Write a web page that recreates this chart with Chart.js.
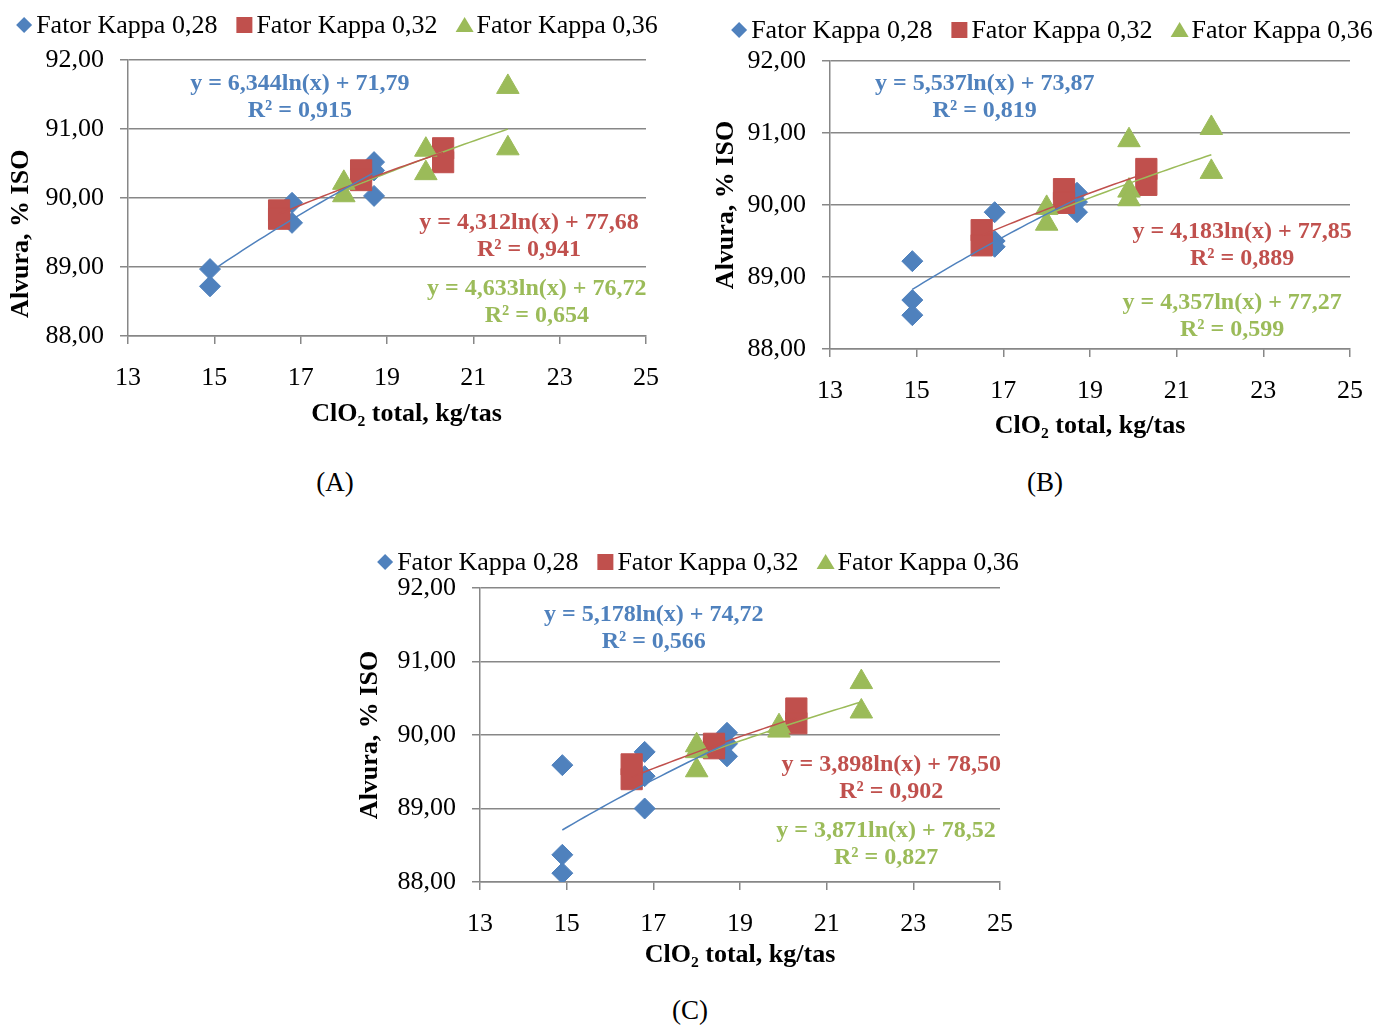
<!DOCTYPE html>
<html>
<head>
<meta charset="utf-8">
<script src="https://cdn.jsdelivr.net/npm/chart.js"></script>
<style>
body{margin:0;background:#fff;width:1382px;height:1025px;position:relative;overflow:hidden;font-family:'Liberation Serif','Times New Roman',serif}
.box{position:absolute}
.tag{position:absolute;font-size:27px;line-height:28px;width:80px;margin-left:-40px;text-align:center;color:#000}
</style>
</head>
<body>
<div class="box" style="left:0;top:0;width:680px;height:440px"><canvas id="chartA"></canvas></div>
<div class="box" style="left:705px;top:0;width:677px;height:450px"><canvas id="chartB"></canvas></div>
<div class="box" style="left:349px;top:528px;width:683px;height:454px"><canvas id="chartC"></canvas></div>
<div class="tag" style="left:335px;top:468px">(A)</div>
<div class="tag" style="left:1045px;top:468px">(B)</div>
<div class="tag" style="left:690px;top:996px">(C)</div>
<script>
var seriesNames = ["Fator Kappa 0,28", "Fator Kappa 0,32", "Fator Kappa 0,36"];
var xTicks = [13, 15, 17, 19, 21, 23, 25];
var yTicks = [88, 89, 90, 91, 92];

// (A)
var aK28x = [14.9, 14.9, 16.8, 16.8, 18.7, 18.7, 18.7];
var aK28y = [88.97, 88.72, 89.93, 89.64, 90.52, 90.40, 90.03];
var aK32x = [16.5, 16.5, 18.4, 18.4, 20.3, 20.3];
var aK32y = [89.82, 89.70, 90.40, 90.26, 90.72, 90.52];
var aK36x = [18.0, 18.0, 19.9, 19.9, 21.8, 21.8];
var aK36y = [90.22, 90.04, 90.70, 90.36, 91.61, 90.72];
var aCoef = [[6.344, 71.79], [4.312, 77.68], [4.633, 76.72]];
var aEq = ["y = 6,344ln(x) + 71,79", "y = 4,312ln(x) + 77,68", "y = 4,633ln(x) + 76,72"];
var aR2 = ["R² = 0,915", "R² = 0,941", "R² = 0,654"];

// (B)
var bK28x = [14.9, 14.9, 14.9, 16.8, 16.8, 16.8, 18.7, 18.7, 18.7];
var bK28y = [89.22, 88.68, 88.47, 89.90, 89.50, 89.42, 90.17, 90.04, 89.90];
var bK32x = [16.5, 16.5, 18.4, 18.4, 20.3, 20.3];
var bK32y = [89.65, 89.44, 90.22, 90.03, 90.50, 90.28];
var bK36x = [18.0, 18.0, 19.9, 19.9, 19.9, 21.8, 21.8];
var bK36y = [89.96, 89.74, 90.90, 90.20, 90.08, 91.07, 90.46];
var bCoef = [[5.537, 73.87], [4.183, 77.85], [4.357, 77.27]];
var bEq = ["y = 5,537ln(x) + 73,87", "y = 4,183ln(x) + 77,85", "y = 4,357ln(x) + 77,27"];
var bR2 = ["R² = 0,819", "R² = 0,889", "R² = 0,599"];

// (C)
var cK28x = [14.9, 14.9, 14.9, 16.8, 16.8, 16.8, 18.7, 18.7, 18.7];
var cK28y = [89.59, 88.37, 88.12, 89.77, 89.44, 89.00, 90.03, 89.88, 89.71];
var cK32x = [16.5, 16.5, 18.4, 18.4, 20.3, 20.3];
var cK32y = [89.60, 89.40, 89.88, 89.82, 90.36, 90.16];
var cK36x = [18.0, 18.0, 18.0, 19.9, 19.9, 21.8, 21.8];
var cK36y = [89.86, 89.78, 89.52, 90.12, 90.06, 90.72, 90.32];
var cCoef = [[5.178, 74.72], [3.898, 78.50], [3.871, 78.52]];
var cEq = ["y = 5,178ln(x) + 74,72", "y = 3,898ln(x) + 78,50", "y = 3,871ln(x) + 78,52"];
var cR2 = ["R² = 0,566", "R² = 0,902", "R² = 0,827"];

var colors = ["#4F81BD", "#C0504D", "#9BBB59"];
var shapes = ["rectRot", "rect", "triangle"];
var radii = [10.5, 15, 13];
var gridColor = "#878787";
var serif = "'Liberation Serif', 'Times New Roman', serif";

Chart.defaults.font.family = serif;
Chart.defaults.color = "#000";

function toPoints(xs, ys) {
	var pts = [];
	for (var i = 0; i < xs.length; i++) pts.push({x: xs[i], y: ys[i]});
	return pts;
}

// log trendline y = a*ln(x) + b, drawn over the x range of its series
function trendPoints(xs, coef) {
	var lo = Math.min.apply(null, xs), hi = Math.max.apply(null, xs);
	var pts = [];
	for (var i = 0; i <= 30; i++) {
		var x = lo + (hi - lo) * i / 30;
		pts.push({x: x, y: coef[0] * Math.log(x) + coef[1]});
	}
	return pts;
}

// legend drawn by hand so it sits where the original one is
var kappaLegend = {
	id: "kappaLegend",
	afterDraw: function(chart) {
		var o = chart.options.plugins.kappaLegend;
		var ctx = chart.ctx;
		ctx.save();
		ctx.font = "26px " + serif;
		ctx.textBaseline = "middle";
		ctx.textAlign = "left";
		var widths = seriesNames.map(function(n){ return ctx.measureText(n).width; });
		var total = 0;
		for (var i = 0; i < widths.length; i++) total += 12 + widths[i] + (i < widths.length - 1 ? 27 : 0);
		var x = o.cx - total / 2 + 6;
		for (var i = 0; i < seriesNames.length; i++) {
			ctx.fillStyle = colors[i];
			ctx.beginPath();
			if (i == 0) {
				ctx.moveTo(x - 8, o.y); ctx.lineTo(x, o.y - 8); ctx.lineTo(x + 8, o.y); ctx.lineTo(x, o.y + 8);
			} else if (i == 1) {
				ctx.rect(x - 8, o.y - 8, 16, 16);
			} else {
				ctx.moveTo(x, o.y - 8); ctx.lineTo(x + 9, o.y + 7); ctx.lineTo(x - 9, o.y + 7);
			}
			ctx.closePath();
			ctx.fill();
			ctx.fillStyle = "#000";
			ctx.fillText(seriesNames[i], x + 12, o.y + 1);
			x += 12 + widths[i] + 27;
		}
		ctx.restore();
	}
};

// equation + R² labels of the trendlines
var eqLabels = {
	id: "eqLabels",
	afterDatasetsDraw: function(chart) {
		var o = chart.options.plugins.eqLabels;
		var ctx = chart.ctx;
		var xs = chart.scales.x, ys = chart.scales.y;
		ctx.save();
		ctx.font = "bold 24px " + serif;
		ctx.textAlign = "center";
		ctx.textBaseline = "middle";
		for (var i = 0; i < o.items.length; i++) {
			var it = o.items[i];
			var px = xs.getPixelForValue(it.at[0]);
			var py = ys.getPixelForValue(it.at[1]);
			ctx.fillStyle = colors[i];
			ctx.fillText(it.eq, px, py);
			ctx.fillText(it.r2, px, py + 27);
		}
		ctx.restore();
	}
};

function makeChart(id, xs, ys, coef, eq, r2, p) {
	var datasets = [];
	for (var i = 0; i < 3; i++) {
		datasets.push({
			label: "trend " + seriesNames[i],
			data: trendPoints(xs[i], coef[i]),
			showLine: true,
			borderColor: colors[i],
			borderWidth: 1.5,
			pointRadius: 0,
			fill: false,
			order: 1
		});
	}
	for (var i = 0; i < 3; i++) {
		datasets.push({
			label: seriesNames[i],
			data: toPoints(xs[i], ys[i]),
			pointStyle: shapes[i],
			pointRadius: radii[i],
			pointHoverRadius: radii[i],
			backgroundColor: colors[i],
			borderColor: colors[i],
			borderWidth: 1,
			order: 6 - i
		});
	}
	var items = [];
	for (var i = 0; i < 3; i++) items.push({eq: eq[i], r2: r2[i], at: p.eqAt[i]});

	return new Chart(document.getElementById(id), {
		type: "scatter",
		data: {datasets: datasets},
		plugins: [kappaLegend, eqLabels],
		options: {
			responsive: true,
			maintainAspectRatio: false,
			animation: false,
			layout: {padding: p.padding},
			plugins: {
				legend: {display: false},
				tooltip: {enabled: false},
				kappaLegend: {cx: p.legendX, y: p.legendY},
				eqLabels: {items: items}
			},
			scales: {
				x: {
					type: "linear",
					min: 13,
					max: 25,
					afterBuildTicks: function(s){ s.ticks = xTicks.map(function(v){ return {value: v}; }); },
					afterFit: function(s){ s.height = 100; },
					ticks: {font: {size: 26}, padding: 19, maxRotation: 0},
					grid: {drawOnChartArea: false, drawTicks: true, tickLength: 8, color: gridColor, lineWidth: 1.5},
					border: {color: gridColor, width: 1.5},
					title: {display: true, text: p.xTitle, font: {size: 26, weight: "bold"}, padding: {top: 0, bottom: p.xTitlePad}}
				},
				y: {
					type: "linear",
					min: 88,
					max: 92,
					afterBuildTicks: function(s){ s.ticks = yTicks.map(function(v){ return {value: v}; }); },
					afterFit: function(s){ s.width = p.yWidth; },
					ticks: {font: {size: 26}, padding: 16, callback: function(v){ return v.toFixed(2).replace(".", ","); }},
					grid: {color: gridColor, lineWidth: 1.5, tickLength: 8},
					border: {color: gridColor, width: 1.5},
					title: {display: true, text: p.yTitle, font: {size: 26, weight: "bold"}, padding: {top: 6, bottom: 0}}
				}
			}
		}
	});
}

makeChart("chartA", [aK28x, aK32x, aK36x], [aK28y, aK32y, aK36y], aCoef, aEq, aR2, {
	padding: {top: 60, left: 0, right: 34, bottom: 4},
	yWidth: 128, xTitlePad: 6, legendX: 335, legendY: 25,
	xTitle: "      ClO₂ total, kg/tas", yTitle: "Alvura, % ISO           ",
	eqAt: [[16.98, 91.65], [22.29, 89.64], [22.47, 88.68]]
});
makeChart("chartB", [bK28x, bK32x, bK36x], [bK28y, bK32y, bK36y], bCoef, bEq, bR2, {
	padding: {top: 61, left: 0, right: 31, bottom: 1},
	yWidth: 125, xTitlePad: 7, legendX: 1050 - 705, legendY: 30,
	xTitle: "ClO₂ total, kg/tas", yTitle: "Alvura, % ISO",
	eqAt: [[16.57, 91.68], [22.51, 89.63], [22.28, 88.64]]
});
makeChart("chartC", [cK28x, cK32x, cK36x], [cK28y, cK32y, cK36y], cCoef, cEq, cR2, {
	padding: {top: 60, left: 0, right: 31, bottom: 0},
	yWidth: 131, xTitlePad: 11, legendX: 696 - 349, legendY: 34,
	xTitle: "ClO₂ total, kg/tas", yTitle: "Alvura, % ISO",
	eqAt: [[17.01, 91.63], [22.49, 89.59], [22.37, 88.69]]
});
</script>
</body>
</html>
